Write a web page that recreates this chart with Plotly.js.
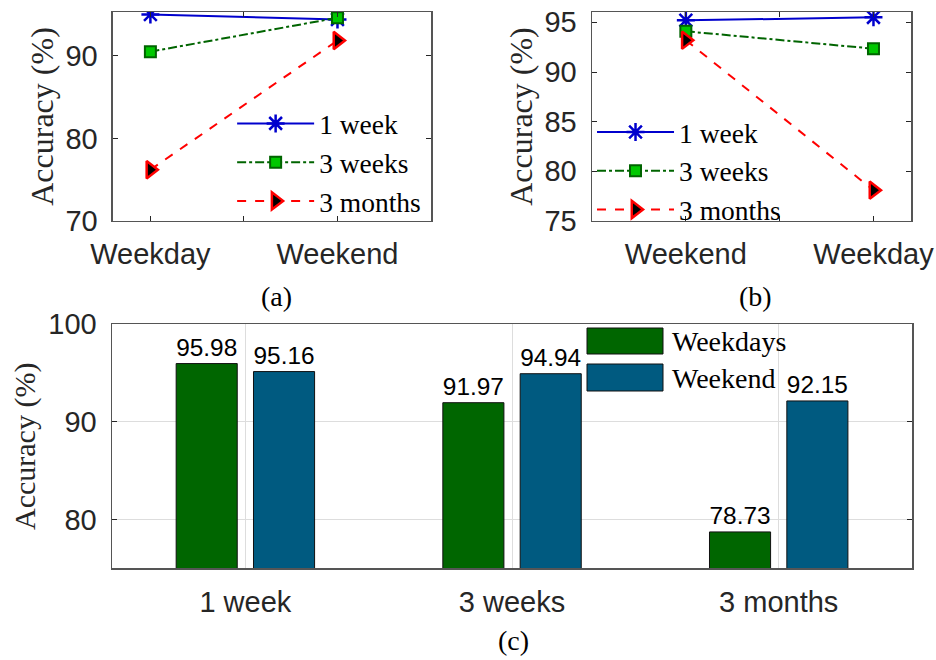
<!DOCTYPE html>
<html>
<head>
<meta charset="utf-8">
<script src="https://cdn.plot.ly/plotly-3.0.1.min.js"></script>
<style>html,body{margin:0;padding:0;background:#fff;}#chart{width:936px;height:660px;}</style>
</head>
<body>
<div id="chart"></div>
<script>
// ---- Data ----
// Panel (a): train on weekday, test on weekday / weekend
var aCategories = ["Weekday", "Weekend"];
var aOneWeek = [95.0, 94.4];
var aThreeWeeks = [90.5, 94.6];
var aThreeMonths = [76.2, 91.85];

// Panel (b): train on weekend, test on weekend / weekday
var bCategories = ["Weekend", "Weekday"];
var bOneWeek = [95.2, 95.5];
var bThreeWeeks = [94.1, 92.35];
var bThreeMonths = [93.2, 78.1];

// Panel (c): bars
var cCategories = ["1 week", "3 weeks", "3 months"];
var cWeekdays = [95.98, 91.97, 78.73];
var cWeekend = [95.16, 94.94, 92.15];

var seriesNames = ["1 week", "3 weeks", "3 months"];
var barNames = ["Weekdays", "Weekend"];

// ---- Styles ----
var serif = "Liberation Serif, Times New Roman, serif";
var sans = "Liberation Sans, Arial, sans-serif";
var axisCol = "#555555";
var tickCol = "#262626";
var blue = "rgb(0,0,205)";
var dkGreen = "rgb(0,100,0)";
var ltGreen = "rgb(0,200,0)";
var red = "rgb(255,0,0)";
var barGreen = "rgb(0,102,0)";
var barBlue = "rgb(0,90,128)";

function xpos(cats) { return cats.map(function (c, i) { return i + 1; }); }

function lineTraces(cats, s1, s2, s3, xa, ya, leg) {
  var xs = xpos(cats);
  return [
    {x: xs, y: s1, xaxis: xa, yaxis: ya, legend: leg, name: seriesNames[0], type: "scatter", mode: "lines+markers",
     line: {color: blue, width: 2, dash: "solid"},
     marker: {symbol: "asterisk-open", size: 15, color: blue, line: {color: blue, width: 2.5}}},
    {x: xs, y: s2, xaxis: xa, yaxis: ya, legend: leg, name: seriesNames[1], type: "scatter", mode: "lines+markers",
     line: {color: dkGreen, width: 2, dash: "dashdot"},
     marker: {symbol: "square", size: 11, color: ltGreen, line: {color: dkGreen, width: 2}}},
    {x: xs, y: s3, xaxis: xa, yaxis: ya, legend: leg, name: seriesNames[2], type: "scatter", mode: "lines+markers",
     line: {color: red, width: 2, dash: "dash"},
     marker: {symbol: "triangle-right", size: 15, color: "black", line: {color: red, width: 2.5}}}
  ];
}

var traces = []
  .concat(lineTraces(aCategories, aOneWeek, aThreeWeeks, aThreeMonths, "x", "y", "legend"))
  .concat(lineTraces(bCategories, bOneWeek, bThreeWeeks, bThreeMonths, "x2", "y2", "legend2"));

traces.push({x: cCategories, y: cWeekdays, xaxis: "x3", yaxis: "y3", name: barNames[0], type: "bar",
  marker: {color: barGreen, line: {color: "#111", width: 1}}, showlegend: false,
  text: cWeekdays.map(function (v) { return v.toFixed(2); }), textposition: "outside",
  textfont: {family: sans, size: 25, color: "#000"}, cliponaxis: false});
traces.push({x: cCategories, y: cWeekend, xaxis: "x3", yaxis: "y3", name: barNames[1], type: "bar",
  marker: {color: barBlue, line: {color: "#111", width: 1}}, showlegend: false,
  text: cWeekend.map(function (v) { return v.toFixed(2); }), textposition: "outside",
  textfont: {family: sans, size: 25, color: "#000"}, cliponaxis: false});

function baseAxis(extra) {
  var o = {showline: true, linecolor: axisCol, linewidth: 1.5, mirror: "ticks", ticks: "inside",
    ticklen: 5, tickcolor: tickCol, tickwidth: 1, zeroline: false, showgrid: false,
    tickfont: {family: sans, size: 29, color: tickCol}, fixedrange: true};
  for (var k in extra) o[k] = extra[k];
  return o;
}

var legendCommon = {font: {family: serif, size: 27.5, color: "#000"}, bgcolor: "rgba(255,255,255,0)",
  borderwidth: 0, itemwidth: 77, tracegroupgap: 0, xanchor: "left", yanchor: "top"};
function leg(x, y) { var o = {}; for (var k in legendCommon) o[k] = legendCommon[k]; o.x = x; o.y = y; return o; }

var layout = {
  width: 936, height: 660,
  margin: {l: 0, r: 0, t: 0, b: 0},
  paper_bgcolor: "#fff", plot_bgcolor: "#fff",
  showlegend: true,
  barmode: "group", bargap: 0.42, bargroupgap: 0.21,
  xaxis: baseAxis({domain: [0.1207, 0.4605], anchor: "y", range: [0.8, 2.5], tickvals: [1, 1.5, 2],
    ticktext: [aCategories[0], "", aCategories[1]], ticklabelstandoff: 7}),
  yaxis: baseAxis({domain: [0.6652, 0.9818], anchor: "x", range: [70, 95.3], tickvals: [70, 80, 90],
    ticklabelstandoff: 8,
    title: {text: "Accuracy (%)", font: {family: serif, size: 32, color: tickCol}, standoff: 2}}),
  xaxis2: baseAxis({domain: [0.6325, 0.9733], anchor: "y2", range: [0.5, 2.2], tickvals: [1, 1.5, 2],
    ticktext: [bCategories[0], "", bCategories[1]], ticklabelstandoff: 7}),
  yaxis2: baseAxis({domain: [0.6652, 0.9818], anchor: "x2", range: [75, 96.04], tickvals: [75, 80, 85, 90, 95],
    ticklabelstandoff: 8,
    title: {text: "Accuracy (%)", font: {family: serif, size: 32, color: tickCol}, standoff: 2}}),
  xaxis3: baseAxis({domain: [0.1197, 0.9744], anchor: "y3", range: [-0.5, 2.5], showgrid: true,
    gridcolor: "#dddddd", gridwidth: 1, ticks: "", ticklabelstandoff: 7}),
  yaxis3: baseAxis({domain: [0.1389, 0.5086], anchor: "x3", range: [75, 100], tickvals: [80, 90, 100],
    showgrid: true, gridcolor: "#dddddd", gridwidth: 1, ticklabelstandoff: 8,
    title: {text: "Accuracy (%)", font: {family: serif, size: 30, color: tickCol}, standoff: 4}}),
  legend: leg(0.248, 0.85),
  legend2: leg(0.6325, 0.837),
  shapes: [
    {type: "rect", xref: "paper", yref: "paper", x0: 587 / 936, x1: 663 / 936, y0: 1 - 354 / 660, y1: 1 - 328 / 660,
     fillcolor: barGreen, line: {color: "#111", width: 1}},
    {type: "rect", xref: "paper", yref: "paper", x0: 587 / 936, x1: 663 / 936, y0: 1 - 391 / 660, y1: 1 - 364 / 660,
     fillcolor: barBlue, line: {color: "#111", width: 1}}
  ],
  annotations: [
    {text: barNames[0], xref: "paper", yref: "paper", x: 670 / 936, y: 1 - 341 / 660, xanchor: "left", yanchor: "middle",
     showarrow: false, font: {family: serif, size: 28, color: "#000"}},
    {text: barNames[1], xref: "paper", yref: "paper", x: 670 / 936, y: 1 - 378 / 660, xanchor: "left", yanchor: "middle",
     showarrow: false, font: {family: serif, size: 28, color: "#000"}},
    {text: "(a)", xref: "paper", yref: "paper", x: 276 / 936, y: 1 - 297 / 660, xanchor: "center", yanchor: "middle",
     showarrow: false, font: {family: serif, size: 28, color: "#000"}},
    {text: "(b)", xref: "paper", yref: "paper", x: 755 / 936, y: 1 - 297 / 660, xanchor: "center", yanchor: "middle",
     showarrow: false, font: {family: serif, size: 28, color: "#000"}},
    {text: "(c)", xref: "paper", yref: "paper", x: 513 / 936, y: 1 - 640 / 660, xanchor: "center", yanchor: "middle",
     showarrow: false, font: {family: serif, size: 28, color: "#000"}}
  ]
};

Plotly.newPlot("chart", traces, layout, {displayModeBar: false, staticPlot: true});
</script>
</body>
</html>
